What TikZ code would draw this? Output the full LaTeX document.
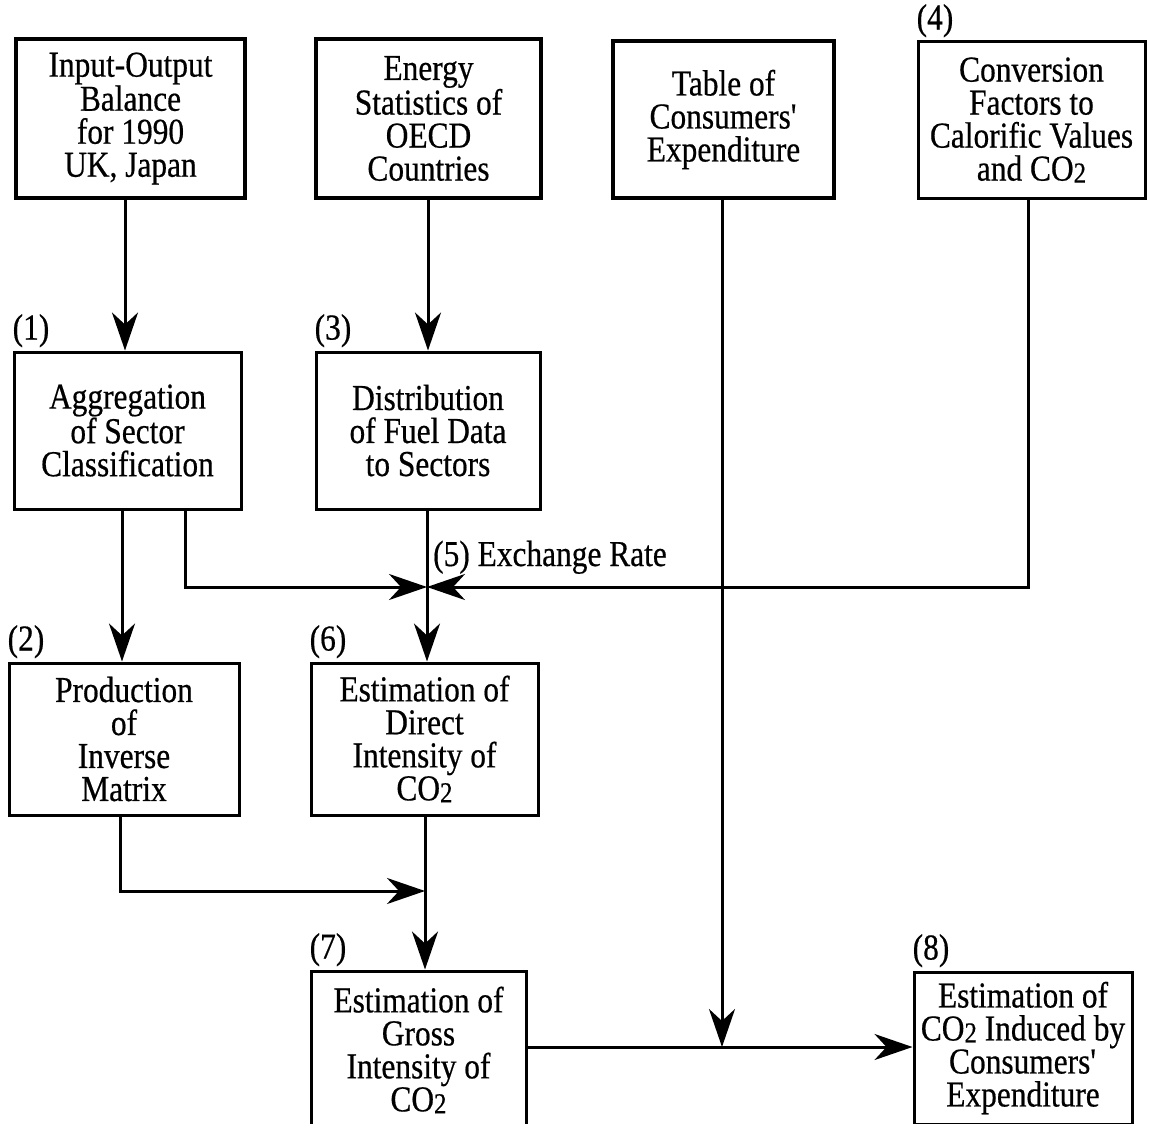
\documentclass[tikz,border=0pt]{standalone}
\usepackage{fontspec}
\setmainfont{Liberation Serif}[FakeStretch=0.86,FakeBold=0.5]
\usetikzlibrary{arrows.meta}
\newcommand{\cotwo}{CO{\fontsize{29}{29}\selectfont\raisebox{-2pt}{2}}}
\newcommand{\q}{\textquotesingle}
\begin{document}
\begin{tikzpicture}[x=1pt,y=-1pt,
  every node/.style={font=\fontsize{36.5}{33}\selectfont},
  box/.style={draw, line width=3pt, inner sep=0pt, align=center},
  srcbox/.style={box, line width=4.5pt},
  tag/.style={anchor=south west, inner sep=0pt, yshift=3pt},
  arr/.style={line width=3pt, -{Stealth[length=38pt,width=26pt,inset=12pt]}}]
\useasboundingbox (0,0) rectangle (1149,1124);

% data sources
\node[srcbox, minimum width=229pt, minimum height=159pt] (A) at (130.5,118.5)
  {Input-Output\\Balance\\for 1990\\UK, Japan};
\node[srcbox, minimum width=225pt, minimum height=159pt] (B) at (428.5,118.5)
  {Energy\\Statistics of\\OECD\\Countries};
\node[srcbox, minimum width=221pt, minimum height=157pt] (C) at (723.5,119.5)
  {Table of\\Consumers\q\\Expenditure};
\node[box, minimum width=227pt, minimum height=156pt] (D) at (1031.5,120)
  {Conversion\\Factors to\\Calorific Values\\and \cotwo};
\node[tag] at (D.north west) {(4)};

% processing steps
\node[box, minimum width=227pt, minimum height=157pt] (S1) at (127.5,430.5)
  {Aggregation\\of Sector\\Classification};
\node[tag] at (S1.north west) {(1)};
\node[box, minimum width=224pt, minimum height=157pt] (S3) at (428,430.5)
  {Distribution\\of Fuel Data\\to Sectors};
\node[tag] at (S3.north west) {(3)};
\node[box, minimum width=230pt, minimum height=152pt] (S2) at (124,739)
  {Production\\of\\Inverse\\Matrix};
\node[tag] at (S2.north west) {(2)};
\node[box, minimum width=227pt, minimum height=152pt] (S6) at (424.5,739)
  {Estimation of\\Direct\\Intensity of\\\cotwo};
\node[tag] at (S6.north west) {(6)};
\node[box, minimum width=215pt, minimum height=158pt] (S7) at (418.5,1050)
  {Estimation of\\Gross\\Intensity of\\\cotwo};
\node[tag] at (S7.north west) {(7)};
\node[box, minimum width=218pt, minimum height=152pt] (S8) at (1023,1048)
  {Estimation of\\\cotwo{} Induced by\\Consumers\q\\Expenditure};
\node[tag] at (S8.north west) {(8)};

% junction points
\coordinate (J) at (427,587);
\coordinate (K) at (425,891);
\coordinate (L) at (722,1047);
\node[anchor=base west, inner sep=0pt] (ex) at (433,566) {(5) Exchange Rate};

% connectors
\draw[arr] ([xshift=-5.5pt]A.south) -- ([xshift=-2.5pt]S1.north);
\draw[arr] ([xshift=-0.5pt]B.south) -- (S3.north);
\draw[arr] ([xshift=-5.5pt]S1.south) -- ([xshift=-2pt]S2.north);
\draw[arr] ([xshift=57.5pt]S1.south) |- (J);
\draw[arr] ([xshift=-3.5pt]D.south) |- (J);
\draw[arr] ([xshift=-1pt]S3.south) -- ([xshift=2.5pt]S6.north);
\draw[arr] ([xshift=-4pt]S2.south) |- (K);
\draw[arr] ([xshift=0.5pt]S6.south) -- ([xshift=6.5pt]S7.north);
\draw[arr] ([xshift=-1.5pt]C.south) -- (L);
\draw[arr] (S7.east |- L) -- (S8.west |- L);
\end{tikzpicture}
\end{document}
